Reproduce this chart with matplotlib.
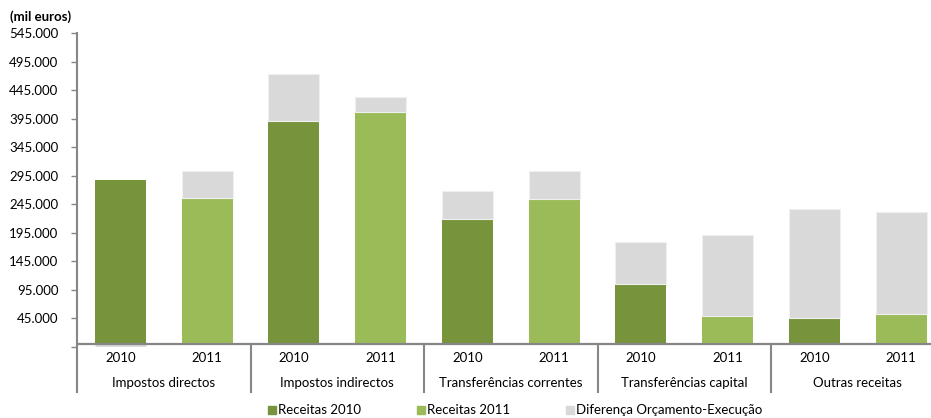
import numpy as np
import matplotlib
matplotlib.use("Agg")
from matplotlib import pyplot as plt
from matplotlib.patches import Rectangle
import matplotlib.transforms as mtransforms

plt.rcParams['font.family'] = ['Lato', 'DejaVu Sans']

# receitas (mil euros)
categorias = ["Impostos directos", "Impostos indirectos", "Transferências correntes",
              "Transferências capital", "Outras receitas"]
anos = ["2010", "2011"]
receitas_2010 = [287600, 391100, 219200, 105200, 45500]
receitas_2011 = [256600, 406900, 254300, 49000, 52500]
diferenca_2010 = [-5000, 81900, 48600, 73700, 191200]
diferenca_2011 = [46500, 25800, 48600, 141600, 179000]

cor_2010 = "#77933C"
cor_2011 = "#9BBB59"
cor_dif = "#D9D9D9"
cor_eixo = "#868686"

W, H = 931, 418
fig = plt.figure(figsize=(W / 100, H / 100), dpi=100)
x0, x1, ytop, ybot = 77, 944.5, 33.3, 346.8
ax = fig.add_axes([x0 / W, 1 - ybot / H, (x1 - x0) / W, (ybot - ytop) / H])

n = len(categorias)
pos_2010 = np.arange(n) * 2
pos_2011 = pos_2010 + 1
largura = 0.59

rec10 = np.array(receitas_2010)
rec11 = np.array(receitas_2011)
dif10 = np.array(diferenca_2010)
dif11 = np.array(diferenca_2011)

ax.bar(pos_2010, rec10, largura, color=cor_2010, zorder=2)
ax.bar(pos_2011, rec11, largura, color=cor_2011, zorder=2)
# a diferença negativa empilha a partir do zero
ax.bar(pos_2010, dif10, largura, bottom=np.where(dif10 >= 0, rec10, 0),
       color=cor_dif, edgecolor="#EFEFEF", linewidth=0.8, zorder=2)
ax.bar(pos_2011, dif11, largura, bottom=np.where(dif11 >= 0, rec11, 0),
       color=cor_dif, edgecolor="#EFEFEF", linewidth=0.8, zorder=2)

ax.set_xlim(-0.5, 2 * n - 0.5)
ax.set_ylim(-5000, 545000)
ticks = np.arange(-5000, 545001, 50000)
ax.set_yticks(ticks)
ax.set_yticklabels(["" if t < 0 else f"{t:,}".replace(",", ".") for t in ticks])
ax.tick_params(axis="y", length=4, width=1, color=cor_eixo, pad=9.5,
               labelsize=9.5, labelcolor="black")
ax.set_xticks([])

for s in ["top", "right", "bottom"]:
    ax.spines[s].set_visible(False)
ax.spines["left"].set_color(cor_eixo)
ax.spines["left"].set_linewidth(1.5)
ax.axhline(0, color=cor_eixo, linewidth=1.6, zorder=3)

# eixo de categorias em dois níveis
fundo = -(392 - ybot) / (ybot - ytop)
trans = mtransforms.blended_transform_factory(ax.transData, ax.transAxes)
zero_ax = (5000) / 550000
for xs in [-0.5] + list(np.arange(1.5, 2 * n - 1, 2)):
    ax.plot([xs, xs], [zero_ax, fundo], transform=trans, color=cor_eixo,
            linewidth=1.5, clip_on=False, zorder=3)

y_ano = -(358 - ybot) / (ybot - ytop)
y_cat = -(383 - ybot) / (ybot - ytop)
for i, cat in enumerate(categorias):
    ax.text(pos_2010[i], y_ano, anos[0], transform=trans, ha="center", va="center", fontsize=9.5)
    ax.text(pos_2011[i], y_ano, anos[1], transform=trans, ha="center", va="center", fontsize=9.5)
    ax.text(pos_2010[i] + 0.5, y_cat, cat, transform=trans, ha="center", va="center", fontsize=9.5)

fig.text(10 / W, 1 - 17 / H, "(mil euros)", fontsize=9.5, fontweight="bold",
         ha="left", va="center")

# legenda
legenda = [("Receitas 2010", cor_2010, 268), ("Receitas 2011", cor_2011, 417),
           ("Diferença Orçamento-Execução", cor_dif, 566)]
for nome, cor, xp in legenda:
    fig.patches.append(Rectangle((xp / W, 1 - 414 / H), 8 / W, 8 / H, color=cor,
                                 transform=fig.transFigure, figure=fig))
    fig.text((xp + 10) / W, 1 - 410 / H, nome, fontsize=9.5, ha="left", va="center")

fig.savefig("out.png", dpi=100)
